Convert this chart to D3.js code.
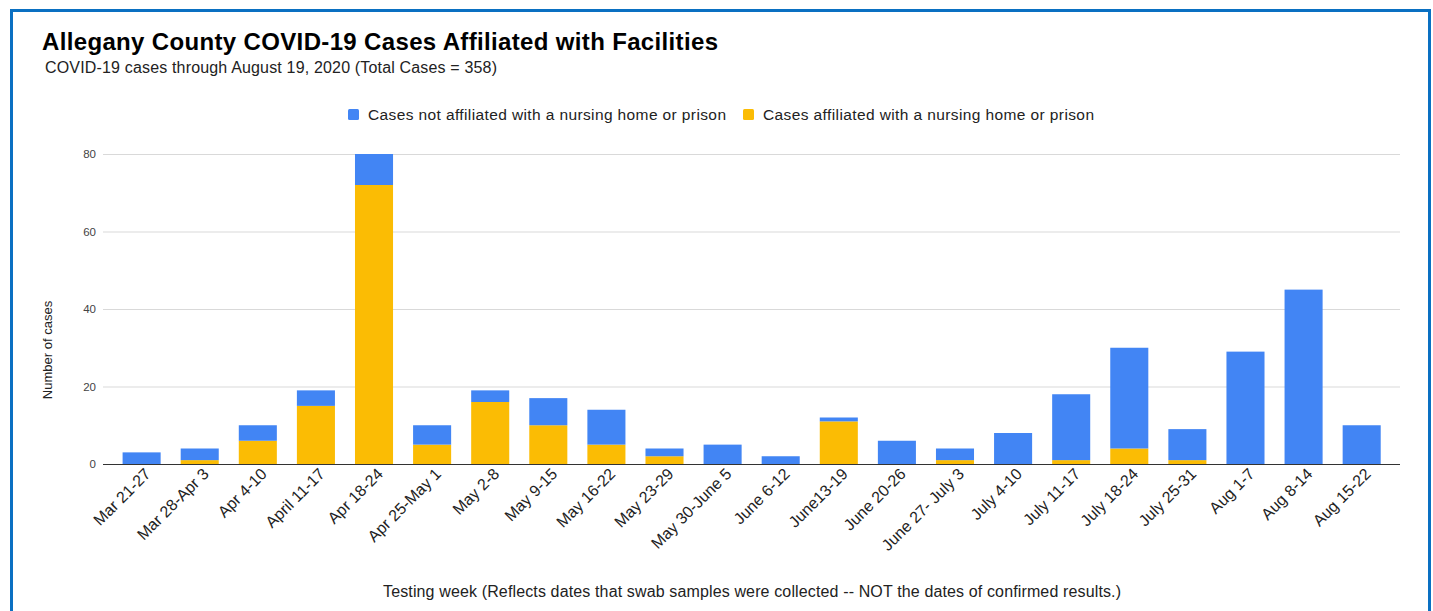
<!DOCTYPE html>
<html>
<head>
<meta charset="utf-8">
<script src="https://cdn.jsdelivr.net/npm/d3@7"></script>
<style>
  body { margin: 0; background: #fff; }
  svg { display: block; font-family: "Liberation Sans", Arial, sans-serif; }
</style>
</head>
<body>
<svg id="chart" width="1433" height="611"></svg>
<script>
var weeks = ['Mar 21-27', 'Mar 28-Apr 3', 'Apr 4-10', 'April 11-17', 'Apr 18-24', 'Apr 25-May 1',
  'May 2-8', 'May 9-15', 'May 16-22', 'May 23-29', 'May 30-June 5', 'June 6-12', 'June13-19',
  'June 20-26', 'June 27- July 3', 'July 4-10', 'July 11-17', 'July 18-24', 'July 25-31',
  'Aug 1-7', 'Aug 8-14', 'Aug 15-22'];
var notAffiliated = [3, 3, 4, 4, 8, 5, 3, 7, 9, 2, 5, 2, 1, 6, 3, 8, 17, 26, 8, 29, 45, 10];
var affiliated = [0, 1, 6, 15, 72, 5, 16, 10, 5, 2, 0, 0, 11, 0, 1, 0, 1, 4, 1, 0, 0, 0];
var yTicks = [0, 20, 40, 60, 80];
var seriesNames = ['Cases not affiliated with a nursing home or prison', 'Cases affiliated with a nursing home or prison'];
var colors = ['#4285f4', '#fbbc04'];

var svg = d3.select('#chart');

// frame
svg.append('rect').attr('x', 11.5).attr('y', 10.5).attr('width', 1418).attr('height', 620)
  .attr('fill', 'none').attr('stroke', '#0a70c2').attr('stroke-width', 3);

svg.append('text').attr('x', 42).attr('y', 50).attr('font-size', 24).attr('font-weight', 'bold')
  .attr('fill', '#000').attr('textLength', 676)
  .text('Allegany County COVID-19 Cases Affiliated with Facilities');
svg.append('text').attr('x', 45).attr('y', 73).attr('font-size', 16).attr('fill', '#222')
  .attr('textLength', 452)
  .text('COVID-19 cases through August 19, 2020 (Total Cases = 358)');

var x = d3.scaleBand().domain(weeks).range([112.6, 1390.7]).paddingInner(0.345).paddingOuter(0.172);
var y = d3.scaleLinear().domain([0, 80]).range([464, 154]);

// gridlines
svg.append('g').selectAll('line').data(yTicks.slice(1)).enter().append('line')
  .attr('x1', 103).attr('x2', 1400)
  .attr('y1', function(d) { return y(d) + 0.5; }).attr('y2', function(d) { return y(d) + 0.5; })
  .attr('stroke', '#d9d9d9');

svg.append('g').selectAll('text').data(yTicks).enter().append('text')
  .attr('x', 96).attr('y', function(d) { return y(d) + 4; })
  .attr('text-anchor', 'end').attr('font-size', 11.5).attr('fill', '#444')
  .text(function(d) { return d; });

var rows = weeks.map(function(w, i) {
  return { week: w, affiliated: affiliated[i], notAffiliated: notAffiliated[i] };
});
var stack = d3.stack().keys(['affiliated', 'notAffiliated'])(rows);

// bars
var layers = svg.append('g').selectAll('g').data(stack).enter().append('g')
  .attr('fill', function(d, i) { return colors[1 - i]; });
layers.selectAll('rect').data(function(d) { return d; }).enter().append('rect')
  .attr('x', function(d) { return x(d.data.week); })
  .attr('width', x.bandwidth())
  .attr('y', function(d) { return y(d[1]); })
  .attr('height', function(d) { return Math.max(0, y(d[0]) - y(d[1])); });

// baseline
svg.append('line').attr('x1', 103).attr('x2', 1400).attr('y1', 464.5).attr('y2', 464.5)
  .attr('stroke', '#333').attr('stroke-width', 1.2);

// x labels
svg.append('g').selectAll('text').data(weeks).enter().append('text')
  .attr('transform', function(d) {
    return 'translate(' + (x(d) + x.bandwidth() / 2 + 10) + ',475) rotate(-45)';
  })
  .attr('text-anchor', 'end').attr('font-size', 16).attr('fill', '#222')
  .text(function(d) { return d; });

svg.append('text').attr('transform', 'translate(52,350) rotate(-90)')
  .attr('text-anchor', 'middle').attr('font-size', 13).attr('fill', '#222').text('Number of cases');

svg.append('text').attr('x', 752).attr('y', 597).attr('text-anchor', 'middle')
  .attr('font-size', 16).attr('fill', '#222').attr('textLength', 738)
  .text('Testing week (Reflects dates that swab samples were collected -- NOT the dates of confirmed results.)');

// legend
var legendX = [348, 743];
var legend = svg.append('g').selectAll('g').data(seriesNames).enter().append('g')
  .attr('transform', function(d, i) { return 'translate(' + legendX[i] + ',109)'; });
legend.append('rect').attr('width', 11).attr('height', 11).attr('rx', 1.5)
  .attr('fill', function(d, i) { return colors[i]; });
legend.append('text').attr('x', 20).attr('y', 11).attr('font-size', 15.5).attr('fill', '#222')
  .attr('textLength', function(d, i) { return i === 0 ? 358 : 331; })
  .text(function(d) { return d; });
</script>
</body>
</html>
